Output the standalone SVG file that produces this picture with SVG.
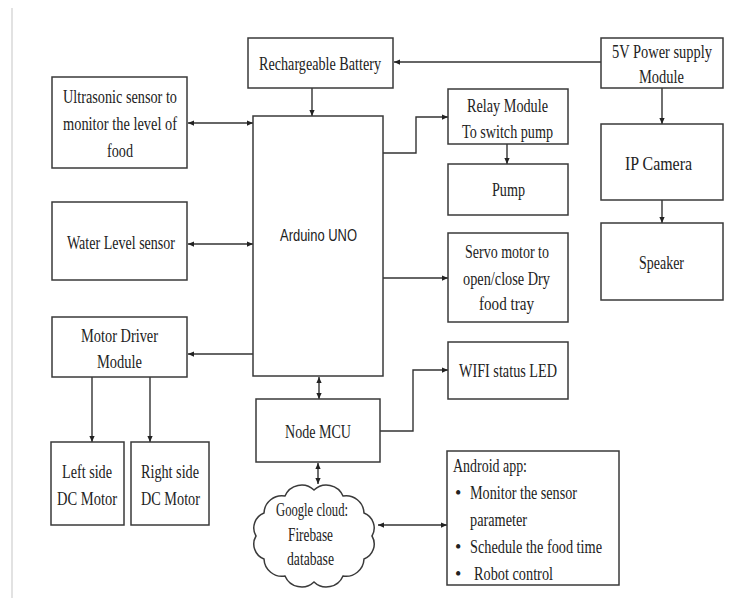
<svg xmlns="http://www.w3.org/2000/svg" width="756" height="600" viewBox="0 0 756 600">
<defs>
<style>
.box{fill:#fff;stroke:#3a3a3a;stroke-width:1.5}
.t{font-family:"Liberation Serif","Times New Roman",serif;font-size:18px;fill:#222;lengthAdjust:spacingAndGlyphs}
.s{font-family:"Liberation Sans",Arial,sans-serif;font-size:16px;fill:#222}
.c{fill:none;stroke:#333;stroke-width:1.4}
</style>
<marker id="ah" viewBox="0 0 8 8" refX="8" refY="4" markerWidth="6" markerHeight="6" markerUnits="userSpaceOnUse" orient="auto-start-reverse">
<path d="M0,0.5 L8,4 L0,7.5 Z" fill="#222"/>
</marker>
</defs>
<rect width="756" height="600" fill="#fff"/>
<line x1="12" y1="8" x2="12" y2="598" stroke="#e2e2e2" stroke-width="2"/>

<g id="connectors">
<line class="c" x1="601" y1="62" x2="394" y2="62" marker-end="url(#ah)"/>
<line class="c" x1="312" y1="88" x2="312" y2="116" marker-end="url(#ah)"/>
<line class="c" x1="188" y1="123" x2="253" y2="123" marker-start="url(#ah)" marker-end="url(#ah)"/>
<line class="c" x1="188" y1="244" x2="253" y2="244" marker-start="url(#ah)" marker-end="url(#ah)"/>
<line class="c" x1="253" y1="354" x2="188" y2="354" marker-end="url(#ah)"/>
<polyline class="c" points="383,153 416,153 416,117 448,117" marker-end="url(#ah)"/>
<line class="c" x1="507" y1="144" x2="507" y2="164" marker-end="url(#ah)"/>
<line class="c" x1="383" y1="278" x2="448" y2="278" marker-end="url(#ah)"/>
<line class="c" x1="319" y1="377" x2="319" y2="399" marker-start="url(#ah)" marker-end="url(#ah)"/>
<polyline class="c" points="380,431 413,431 413,370 448,370" marker-end="url(#ah)"/>
<line class="c" x1="318" y1="463" x2="318" y2="484" marker-start="url(#ah)" marker-end="url(#ah)"/>
<line class="c" x1="378" y1="525" x2="447" y2="525" marker-start="url(#ah)" marker-end="url(#ah)"/>
<line class="c" x1="662" y1="88" x2="662" y2="124" marker-end="url(#ah)"/>
<line class="c" x1="662" y1="200" x2="662" y2="223" marker-end="url(#ah)"/>
<line class="c" x1="92" y1="377" x2="92" y2="442" marker-end="url(#ah)"/>
<line class="c" x1="150" y1="377" x2="150" y2="442" marker-end="url(#ah)"/>
</g>

<g id="battery">
<rect class="box" x="248" y="38" width="145" height="50"/>
<text class="t" x="259" y="70" textLength="122" lengthAdjust="spacingAndGlyphs">Rechargeable Battery</text>
</g>
<g id="power">
<rect class="box" x="601" y="38" width="122" height="50"/>
<text class="t" x="612" y="58" textLength="100" lengthAdjust="spacingAndGlyphs">5V Power supply</text>
<text class="t" x="639" y="83" textLength="45" lengthAdjust="spacingAndGlyphs">Module</text>
</g>
<g id="ultrasonic">
<rect class="box" x="52" y="77" width="135" height="91"/>
<text class="t" x="63" y="103" textLength="114" lengthAdjust="spacingAndGlyphs">Ultrasonic sensor to</text>
<text class="t" x="63" y="130" textLength="114" lengthAdjust="spacingAndGlyphs">monitor the level of</text>
<text class="t" x="107" y="157" textLength="26" lengthAdjust="spacingAndGlyphs">food</text>
</g>
<g id="arduino">
<rect class="box" x="253" y="116" width="130" height="260"/>
<text class="s" x="280" y="241" textLength="77" lengthAdjust="spacingAndGlyphs">Arduino UNO</text>
</g>
<g id="relay">
<rect class="box" x="448" y="89" width="120" height="55"/>
<text class="t" x="467" y="112" textLength="81" lengthAdjust="spacingAndGlyphs">Relay Module</text>
<text class="t" x="462" y="138" textLength="91" lengthAdjust="spacingAndGlyphs">To switch pump</text>
</g>
<g id="pump">
<rect class="box" x="448" y="164" width="120" height="51"/>
<text class="t" x="492" y="196" textLength="33" lengthAdjust="spacingAndGlyphs">Pump</text>
</g>
<g id="servo">
<rect class="box" x="448" y="233" width="120" height="89"/>
<text class="t" x="465" y="258" textLength="84" lengthAdjust="spacingAndGlyphs">Servo motor to</text>
<text class="t" x="463" y="285" textLength="87" lengthAdjust="spacingAndGlyphs">open/close Dry</text>
<text class="t" x="479" y="310" textLength="55" lengthAdjust="spacingAndGlyphs">food tray</text>
</g>
<g id="wifi">
<rect class="box" x="448" y="342" width="120" height="57"/>
<text class="t" x="459" y="377" textLength="98" lengthAdjust="spacingAndGlyphs">WIFI status LED</text>
</g>
<g id="camera">
<rect class="box" x="601" y="124" width="122" height="76"/>
<text class="t" x="625" y="170" textLength="67" lengthAdjust="spacingAndGlyphs">IP Camera</text>
</g>
<g id="speaker">
<rect class="box" x="601" y="223" width="122" height="77"/>
<text class="t" x="639" y="269" textLength="45" lengthAdjust="spacingAndGlyphs">Speaker</text>
</g>
<g id="water">
<rect class="box" x="52" y="202" width="135" height="78"/>
<text class="t" x="67" y="249" textLength="108" lengthAdjust="spacingAndGlyphs">Water Level sensor</text>
</g>
<g id="motordriver">
<rect class="box" x="52" y="317" width="135" height="60"/>
<text class="t" x="81" y="342" textLength="77" lengthAdjust="spacingAndGlyphs">Motor Driver</text>
<text class="t" x="97" y="368" textLength="45" lengthAdjust="spacingAndGlyphs">Module</text>
</g>
<g id="leftmotor">
<rect class="box" x="51" y="442" width="73" height="83"/>
<text class="t" x="62" y="478" textLength="50" lengthAdjust="spacingAndGlyphs">Left side</text>
<text class="t" x="57" y="505" textLength="60" lengthAdjust="spacingAndGlyphs">DC Motor</text>
</g>
<g id="rightmotor">
<rect class="box" x="131" y="442" width="78" height="83"/>
<text class="t" x="141" y="478" textLength="58" lengthAdjust="spacingAndGlyphs">Right side</text>
<text class="t" x="141" y="505" textLength="59" lengthAdjust="spacingAndGlyphs">DC Motor</text>
</g>
<g id="nodemcu">
<rect class="box" x="256" y="399" width="124" height="63"/>
<text class="t" x="285" y="438" textLength="66" lengthAdjust="spacingAndGlyphs">Node MCU</text>
</g>
<g id="cloud">
<path class="box" d="M314,490 A18,18 0 0 1 343,496 A18,18 0 0 1 364,513 A16,16 0 0 1 372,536 A16,16 0 0 1 364,559 A18,18 0 0 1 343,576 A18,18 0 0 1 314,582 A18,18 0 0 1 285,576 A18,18 0 0 1 264,559 A16,16 0 0 1 256,536 A16,16 0 0 1 264,513 A18,18 0 0 1 285,496 A18,18 0 0 1 314,490 Z"/>
<text class="t" x="276" y="516" textLength="72" lengthAdjust="spacingAndGlyphs">Google cloud:</text>
<text class="t" x="288" y="541" textLength="45" lengthAdjust="spacingAndGlyphs">Firebase</text>
<text class="t" x="287" y="565" textLength="47" lengthAdjust="spacingAndGlyphs">database</text>
</g>
<g id="android">
<rect class="box" x="447" y="451" width="172" height="134"/>
<text class="t" x="453" y="472" textLength="74" lengthAdjust="spacingAndGlyphs">Android app:</text>
<text class="t" x="455" y="499">•</text>
<text class="t" x="470" y="499" textLength="107" lengthAdjust="spacingAndGlyphs">Monitor the sensor</text>
<text class="t" x="470" y="526" textLength="57" lengthAdjust="spacingAndGlyphs">parameter</text>
<text class="t" x="455" y="553">•</text>
<text class="t" x="470" y="553" textLength="132" lengthAdjust="spacingAndGlyphs">Schedule the food time</text>
<text class="t" x="455" y="580">•</text>
<text class="t" x="474" y="580" textLength="79" lengthAdjust="spacingAndGlyphs">Robot control</text>
</g>
</svg>
